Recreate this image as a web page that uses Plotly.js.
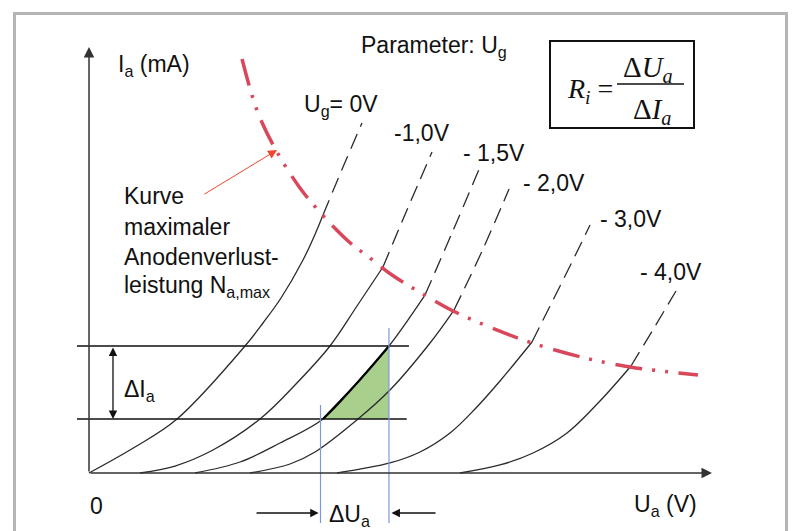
<!DOCTYPE html>
<html><head><meta charset="utf-8">
<script src="https://cdn.plot.ly/plotly-3.0.1.min.js"></script>
<style>html,body{margin:0;padding:0;background:#fff}#chart{width:795px;height:531px}</style>
</head><body><div id="chart"></div>
<script>
// ---- data (U_a, I_a in relative units) ----
const gridLabels = ['U<sub>g</sub>= 0V', '-1,0V', '- 1,5V', '- 2,0V', '- 3,0V', '- 4,0V'];

const ua_0V  = [0, 7.38, 14.13, 25.04, 27.93, 30.82, 34.35, 36.44, 37.56, 40.77, 43.82];
const ia_0V  = [0, 6.10, 12.68, 29.81, 35.21, 41.08, 50.00, 56.57, 60.56, 71.83, 82.16];

const ua_1V0 = [8.19, 13.80, 19.90, 27.45, 33.07, 38.68, 43.02, 47.19, 51.04, 55.06];
const ia_1V0 = [0, 1.64, 5.40, 12.68, 20.66, 29.81, 39.20, 48.36, 61.74, 75.35];

const ua_1V5 = [17.01, 24.24, 30.66, 37.56, 43.02, 48.15, 53.93, 58.27, 62.76];
const ia_1V5 = [0, 2.58, 7.04, 12.68, 21.13, 29.81, 41.78, 56.34, 71.83];

const ua_2V0 = [25.84, 32.26, 36.28, 43.18, 48.31, 54.74, 58.59, 63.24, 67.42];
const ia_2V0 = [0, 2.11, 4.93, 12.68, 19.48, 30.52, 38.26, 52.58, 66.67];

const ua_3V0 = [39.81, 48.31, 53.13, 57.95, 61.96, 65.97, 71.11, 74.00, 77.21, 80.42];
const ia_3V0 = [0, 2.35, 4.93, 9.39, 15.02, 21.60, 30.75, 39.20, 48.59, 58.22];

const ua_4V0 = [59.55, 65.97, 71.27, 76.73, 82.02, 87.00, 90.69, 94.22];
const ia_4V0 = [0, 1.88, 4.69, 9.39, 16.90, 25.12, 34.04, 42.72];

// curve of maximum anode dissipation N_a,max
const ua_max = [24.56, 27.13, 30.18, 33.87, 36.76, 41.41, 45.10, 48.64, 54.41, 58.43, 64.69, 71.11, 79.61, 86.84, 93.26, 97.75];
const ia_max = [97.18, 84.51, 75.35, 66.90, 61.74, 54.69, 50.47, 46.48, 41.31, 38.03, 34.04, 30.52, 27.00, 24.88, 23.71, 23.00];

// operating triangle: the two I_a levels and two U_a levels
const deltaIa = [12.68, 29.81];
const deltaUa = [37.56, 48.15];

const curvesUa = [ua_0V, ua_1V0, ua_1V5, ua_2V0, ua_3V0, ua_4V0];
const curvesIa = [ia_0V, ia_1V0, ia_1V5, ia_2V0, ia_3V0, ia_4V0];

// ---- helpers ----
const W = 795, H = 531;
function redAt(u) {
  if (u <= ua_max[0]) return ia_max[0];
  for (let i = 1; i < ua_max.length; i++) {
    if (u <= ua_max[i]) {
      const t = (u - ua_max[i-1]) / (ua_max[i] - ua_max[i-1]);
      return ia_max[i-1] + t * (ia_max[i] - ia_max[i-1]);
    }
  }
  return ia_max[ia_max.length-1];
}
const px = v => v / W;
const py = v => 1 - v / H;

const BLACK = '#2b2b2b';
const traces = [];

// green triangle, hypotenuse following the -1,5V curve
const hypU = [], hypI = [];
ua_1V5.forEach((u, i) => {
  if (ia_1V5[i] >= deltaIa[0] - 0.01 && ia_1V5[i] <= deltaIa[1] + 0.01) { hypU.push(u); hypI.push(ia_1V5[i]); }
});
traces.push({
  x: hypU.concat([deltaUa[1], hypU[0]]),
  y: hypI.concat([deltaIa[0], hypI[0]]),
  mode: 'lines', fill: 'toself', fillcolor: '#a8cf8b',
  line: {color: 'rgba(0,0,0,0)', width: 0}, hoverinfo: 'skip'
});

curvesUa.forEach((ua, c) => {
  const ia = curvesIa[c];
  let k = ia.length;
  for (let i = 0; i < ia.length; i++) {
    if (ia[i] > redAt(ua[i]) + 1.5) { k = i; break; }
  }
  traces.push({
    x: ua.slice(0, k), y: ia.slice(0, k), mode: 'lines',
    line: {color: BLACK, width: 1.3, shape: 'spline', smoothing: 1}, hoverinfo: 'skip'
  });
  traces.push({
    x: ua.slice(k - 1), y: ia.slice(k - 1), mode: 'lines',
    line: {color: BLACK, width: 1.3, dash: '16px,8px', shape: 'spline', smoothing: 1}, hoverinfo: 'skip'
  });
});

// hypotenuse of triangle (thicker)
traces.push({
  x: hypU, y: hypI, mode: 'lines',
  line: {color: '#000', width: 2.2, shape: 'spline', smoothing: 1}, hoverinfo: 'skip'
});

// red curve
traces.push({
  x: ua_max, y: ia_max, mode: 'lines',
  line: {color: '#d9475a', width: 3.5, dash: '27px,10px,3px,10px,3px,11px', shape: 'spline', smoothing: 1},
  hoverinfo: 'skip'
});

const FONT = 'Liberation Sans, Arial, sans-serif';
const SERIF = 'Liberation Serif, Times New Roman, serif';
function txt(text, x, y, size, anchor, fam) {
  return {text: text, xref: 'paper', yref: 'paper', x: px(x), y: py(y),
    xanchor: anchor || 'left', yanchor: 'middle', showarrow: false,
    font: {family: fam || FONT, size: size || 23, color: '#111'}};
}
function arr(x, y, ax, ay, opts) {
  return Object.assign({text: '', x: x, y: y, ax: ax, ay: ay, xref: 'x', yref: 'y',
    axref: 'x', ayref: 'y', showarrow: true, arrowhead: 2, arrowsize: 1.4,
    arrowwidth: 1.5, arrowcolor: '#333', standoff: 0, startstandoff: 0}, opts || {});
}

const annotations = [
  txt('I<sub>a</sub> (mA)', 116, 66),
  txt('Parameter: U<sub>g</sub>', 359, 46),
  txt(gridLabels[0], 302, 106),
  txt(gridLabels[1], 392, 133),
  txt(gridLabels[2], 461, 153),
  txt(gridLabels[3], 521, 183),
  txt(gridLabels[4], 598, 219),
  txt(gridLabels[5], 638, 272),
  txt('Kurve', 122, 196),
  txt('maximaler', 122, 227),
  txt('Anodenverlust-', 122, 257),
  txt('leistung N<sub>a,max</sub>', 122, 286),
  txt('ΔI<sub>a</sub>', 122, 390),
  txt('0', 96, 506, 23, 'center'),
  txt('U<sub>a</sub> (V)', 632, 505),
  txt('ΔU<sub>a</sub>', 327, 515),
  txt('<i>R</i><sub><i>i</i></sub> =', 565, 90, 28, 'left', SERIF),
  txt('Δ<i>U</i><sub><i>a</i></sub>', 648, 69, 29, 'center', SERIF),
  txt('Δ<i>I</i><sub><i>a</i></sub>', 652, 111, 29, 'center', SERIF),
  // axes
  arr(100, 0, 0, 0),
  arr(0, 100, 0, 0),
  // delta I arrow
  arr(3.85, deltaIa[0], 3.85, deltaIa[1], {arrowside: 'end+start', startarrowhead: 2, arrowsize: 1.3, startarrowsize: 1.3, arrowwidth: 1.3, arrowcolor: '#111'}),
  // delta U arrows
  arr(deltaUa[0] - 0.7, -9.39, 26.65, -9.39, {arrowsize: 1.3, arrowwidth: 1.3, arrowcolor: '#111'}),
  arr(deltaUa[1] + 0.4, -9.39, 55.86, -9.39, {arrowsize: 1.3, arrowwidth: 1.3, arrowcolor: '#111'}),
  // red pointer arrow
  arr(30.18, 75.82, 18.3, 65.26, {arrowcolor: '#ef4630', arrowwidth: 1, arrowsize: 1.8})
];

const shapes = [
  // outer frame
  {type: 'rect', xref: 'paper', yref: 'paper', x0: px(14.5), x1: px(786.5), y0: -0.05, y1: py(13.5),
   line: {color: '#b5b5b5', width: 3}},
  // horizontal level lines
  {type: 'line', xref: 'x', yref: 'y', x0: -1.93, x1: 51.36, y0: deltaIa[1], y1: deltaIa[1], line: {color: '#111', width: 1.4}},
  {type: 'line', xref: 'x', yref: 'y', x0: -1.93, x1: 51.0, y0: deltaIa[0], y1: deltaIa[0], line: {color: '#111', width: 1.4}},
  // blue verticals
  {type: 'line', xref: 'x', yref: 'y', x0: deltaUa[0] - 0.4, x1: deltaUa[0] - 0.4, y0: 15.96, y1: -11.74, line: {color: '#7d98de', width: 1.2}},
  {type: 'line', xref: 'x', yref: 'y', x0: deltaUa[1], x1: deltaUa[1], y0: 34.04, y1: -11.74, line: {color: '#7d98de', width: 1.2}},
  // formula box and fraction bar
  {type: 'rect', xref: 'paper', yref: 'paper', x0: px(550), x1: px(694), y0: py(128), y1: py(41), line: {color: '#111', width: 2}},
  {type: 'line', xref: 'paper', yref: 'paper', x0: px(617), x1: px(684), y0: py(84), y1: py(84), line: {color: '#111', width: 1.5}}
];

const layout = {
  width: W, height: H,
  margin: {l: 0, r: 0, t: 0, b: 0},
  paper_bgcolor: '#fff', plot_bgcolor: '#fff',
  showlegend: false,
  xaxis: {range: [-89 / 6.23, (W - 89) / 6.23], visible: false, fixedrange: true},
  yaxis: {range: [(473 - H) / 4.26, 473 / 4.26], visible: false, fixedrange: true},
  annotations: annotations,
  shapes: shapes
};

Plotly.newPlot('chart', traces, layout, {displayModeBar: false, staticPlot: true});
</script>
</body></html>
